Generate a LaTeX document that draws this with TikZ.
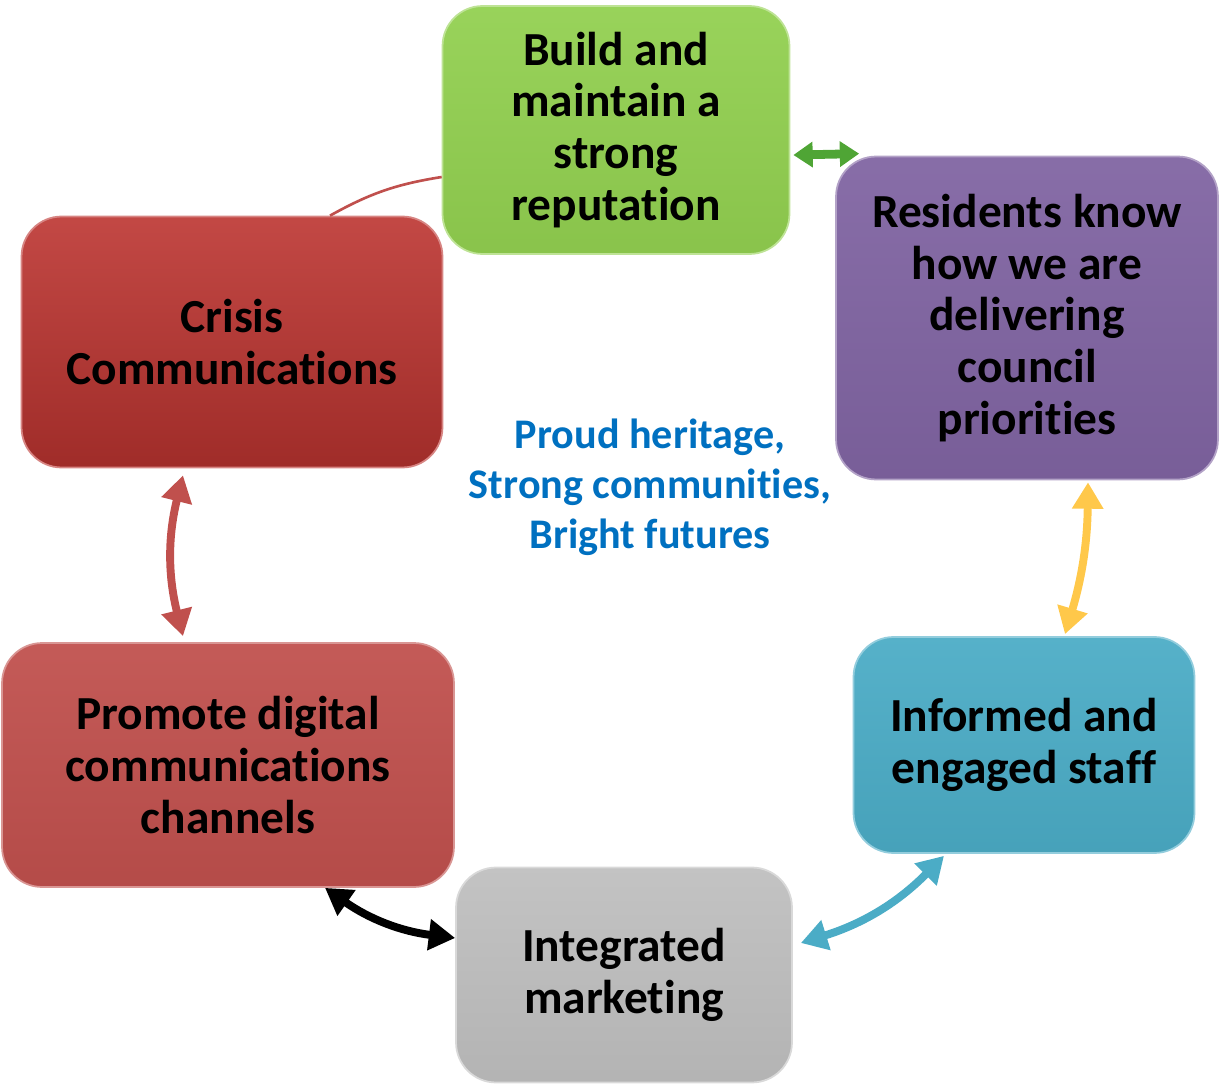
\documentclass[tikz,border=0pt]{standalone}
\usepackage{fontspec}
\setmainfont{Carlito}[Ligatures=NoCommon]
\usetikzlibrary{arrows.meta}
\definecolor{buildcolor}{HTML}{92D050}
\definecolor{residentcolor}{HTML}{8064A2}
\definecolor{crisiscolor}{HTML}{BC3430}
\definecolor{promotecolor}{HTML}{C0504D}
\definecolor{staffcolor}{HTML}{4BACC6}
\definecolor{marketcolor}{HTML}{BFBFBF}
\definecolor{mottocolor}{HTML}{0070C0}
\definecolor{greenarrow}{HTML}{4FA535}
\definecolor{yellowarrow}{HTML}{FFC84A}

\tikzset{
  goal/.style={rounded corners=0.8cm, align=center, inner sep=0pt,
    font=\bfseries\fontsize{27}{29.5}\selectfont, draw=#1!60!white, line width=1pt,
    top color=#1!94!white, bottom color=#1!94!black},
  link/.style={line width=4.5pt, {Triangle[length=15pt,width=17pt]}-{Triangle[length=15pt,width=17pt]}},
}

\begin{document}
\begin{tikzpicture}[x=0.02cm,y=-0.02cm]
  \useasboundingbox (0,0) rectangle (1225,1088);
  % the six goals
  \node[goal=buildcolor, minimum width=6.94cm, minimum height=4.96cm] (build) at (616,130) {Build and\\maintain a\\strong\\reputation};
  \node[goal=residentcolor, minimum width=7.64cm, minimum height=6.46cm] (residents) at (1027,318) {Residents know\\how we are\\delivering\\council\\priorities};
  \node[goal=crisiscolor, minimum width=8.42cm, minimum height=5.02cm, top color=crisiscolor!90!white, bottom color=crisiscolor!85!black] (crisis) at (232,342) {Crisis\\Communications};
  \node[goal=promotecolor, minimum width=9.04cm, minimum height=4.88cm] (promote) at (228,765) {Promote digital\\communications\\channels};
  \node[goal=staffcolor, minimum width=6.82cm, minimum height=4.32cm] (staff) at (1024,745) {Informed and\\engaged staff};
  \node[goal=marketcolor, minimum width=6.72cm, minimum height=4.3cm] (market) at (624,975) {Integrated\\marketing};
  % motto in the middle
  \node[align=center, text=mottocolor, font=\bfseries\fontsize{24}{28.4}\selectfont] (motto) at (650,487) {Proud heritage,\\Strong communities,\\Bright futures};
  % links
  \draw[link, greenarrow, line width=5pt, {Triangle[length=11pt,width=14pt]}-{Triangle[length=11pt,width=14pt]}] ([shift={(3,25)}]build.east) -- ([shift={(24,-2)}]residents.north west);
  \draw[link, yellowarrow] ([shift={(61,2)}]residents.south) to[bend left=8] ([shift={(41,-2)}]staff.north);
  \draw[link, promotecolor] ([shift={(-49,7)}]crisis.south) to[bend right=14] ([shift={(-45,-6)}]promote.north);
  \draw[link, black] ([shift={(97,0)}]promote.south) to[bend right=14] ([shift={(0,-37)}]market.west);
  \draw[link, staffcolor] ([shift={(-80,2)}]staff.south) to[bend left=14] ([shift={(8,-32)}]market.east);
  \draw[promotecolor, line width=1.5pt] ([shift={(98,0)}]crisis.north) to[bend left=10] ([shift={(0,47)}]build.west);
\end{tikzpicture}
\end{document}
